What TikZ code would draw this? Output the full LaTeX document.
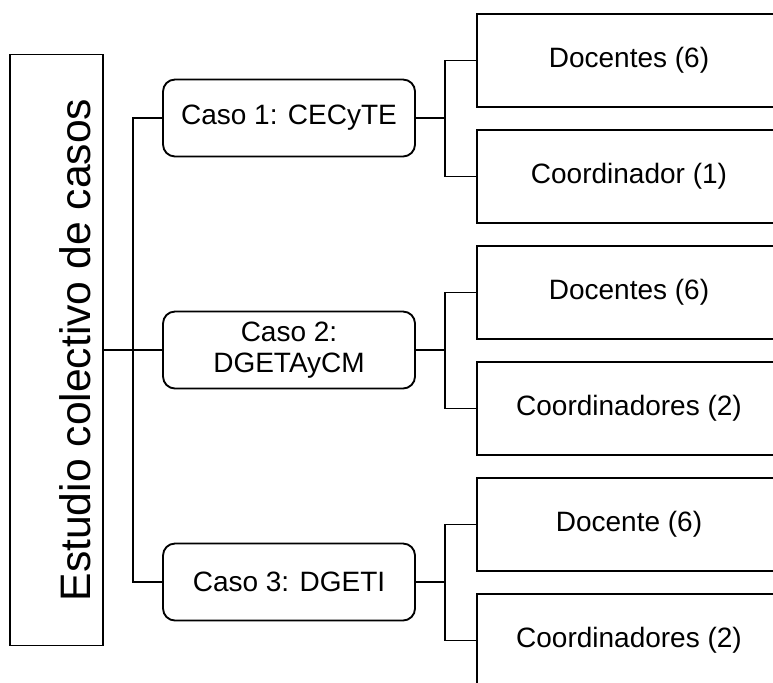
\documentclass[tikz,border=0pt]{standalone}
\usepackage{fontspec}
\setmainfont{Liberation Sans}
\usetikzlibrary{positioning}

\begin{document}
\begin{tikzpicture}[
        x=0.75pt, y=-0.75pt,
        line width=1.4pt,
        estudio/.style={rectangle, draw, minimum width=69.75pt, minimum height=443.25pt},
        caso/.style={rectangle, draw, rounded corners=9pt, minimum width=189pt, minimum height=57.75pt, align=center, font=\fontsize{21}{23}\selectfont},
        grupo/.style={rectangle, draw, minimum width=228pt, minimum height=69.75pt, align=center, font=\fontsize{21}{23}\selectfont}
    ]
        \clip (0,0) rectangle (773,682);

        % Estudio colectivo
        \node[estudio] (estudio) at (56.5,350) {};
        \node[rotate=90, font=\fontsize{32}{38}\selectfont] (titulo) at (75,350) {Estudio colectivo de casos};

        % Casos
        \node[caso] (caso1) at (289,118) {Caso 1: CECyTE};
        \node[caso] (caso2) at (289,350) {Caso 2:\\DGETAyCM};
        \node[caso] (caso3) at (289,582) {Caso 3: DGETI};

        % Participantes
        \node[grupo] (doc1) at (629,60.5) {Docentes (6)};
        \node[grupo] (coord1) at (629,176.5) {Coordinador (1)};
        \node[grupo] (doc2) at (629,292.5) {Docentes (6)};
        \node[grupo] (coord2) at (629,408.5) {Coordinadores (2)};
        \node[grupo] (doc3) at (629,524.5) {Docente (6)};
        \node[grupo] (coord3) at (629,640.5) {Coordinadores (2)};

        % Conexiones
        \coordinate (j0) at (133,350);
        \coordinate (j1) at (445,118);
        \coordinate (j2) at (445,350);
        \coordinate (j3) at (445,582);
        \draw (estudio.east) -- (j0);
        \draw (j0) |- (caso1.west);
        \draw (j0) -- (caso2.west);
        \draw (j0) |- (caso3.west);
        \draw (caso1.east) -- (j1);
        \draw (j1) |- (doc1.west);
        \draw (j1) |- (coord1.west);
        \draw (caso2.east) -- (j2);
        \draw (j2) |- (doc2.west);
        \draw (j2) |- (coord2.west);
        \draw (caso3.east) -- (j3);
        \draw (j3) |- (doc3.west);
        \draw (j3) |- (coord3.west);
    \end{tikzpicture}
\end{document}
